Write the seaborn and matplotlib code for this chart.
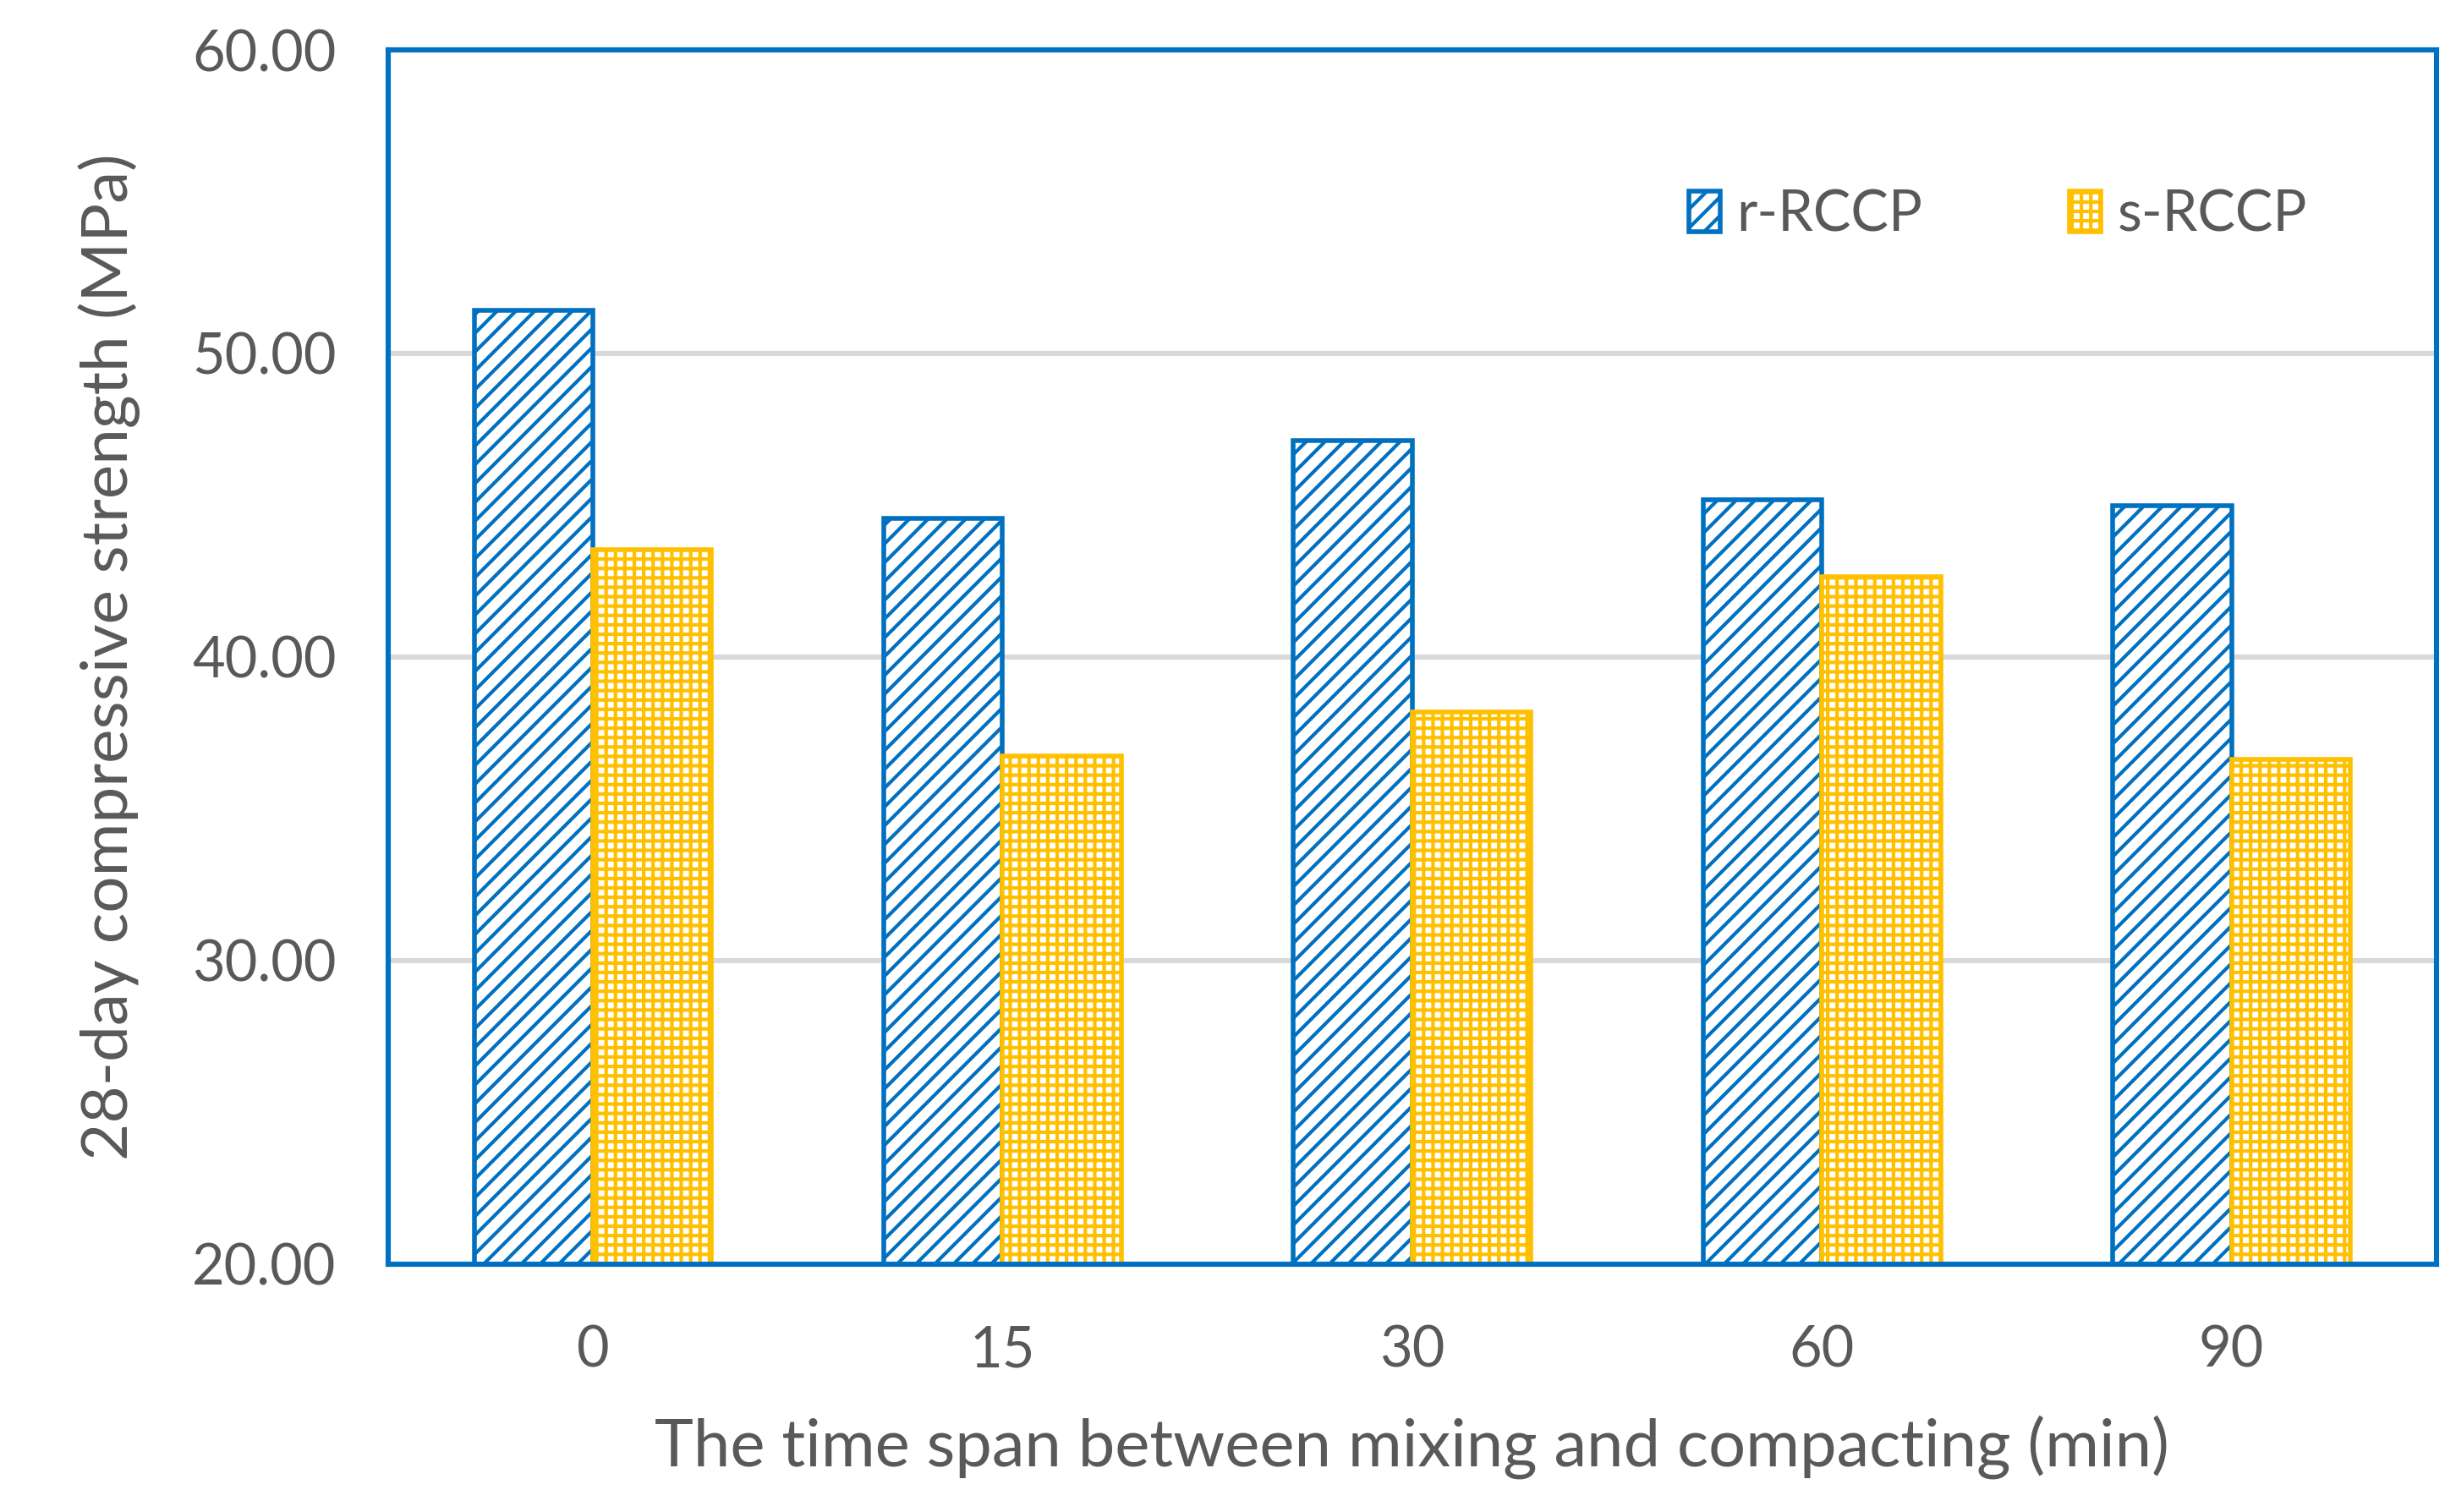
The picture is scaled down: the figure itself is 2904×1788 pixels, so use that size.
import matplotlib
matplotlib.use("Agg")
import matplotlib.pyplot as plt
from matplotlib.patches import Patch
import seaborn as sns
import pandas as pd

times = ["0", "15", "30", "60", "90"]
r_rccp = [51.43, 44.57, 47.12, 45.19, 44.99]
s_rccp = [43.53, 36.73, 38.18, 42.65, 36.62]
series = ["r-RCCP", "s-RCCP"]
yticks = [20, 30, 40, 50, 60]

BLUE = "#0070C0"
GOLD = "#FFC000"
TEXT = "#595959"
GRID = "#D9D9D9"

df = pd.DataFrame({
    "time": times * 2,
    "strength": r_rccp + s_rccp,
    "mix": [series[0]] * len(times) + [series[1]] * len(times),
})

sns.set_theme(style="white")
plt.rcParams["font.family"] = ["Lato", "DejaVu Sans"]
plt.rcParams["hatch.linewidth"] = 1.5

fig = plt.figure(figsize=(14.52, 8.94), dpi=200)
ax = fig.add_axes([0.158, 0.164, 0.834, 0.803])

sns.barplot(data=df, x="time", y="strength", hue="mix", order=times,
            hue_order=series, palette=[BLUE, GOLD], width=0.58,
            saturation=1, ax=ax, legend=False, zorder=3)

styles = [(BLUE, "///"), (GOLD, "+++")]
for cont, (col, h) in zip(ax.containers, styles):
    for bar in cont:
        bar.set_facecolor("white")
        bar.set_edgecolor(col)
        bar.set_hatch(h)
        bar.set_linewidth(2.0)

ax.set_ylim(20, 60)
ax.set_xlim(-0.5, len(times) - 0.5)
ax.set_yticks(yticks)
ax.set_yticklabels([f"{v:.2f}" for v in yticks])
ax.yaxis.grid(True, color=GRID, linewidth=2.2, zorder=0)
ax.set_axisbelow(True)
for sp in ax.spines.values():
    sp.set_visible(True)
    sp.set_color(BLUE)
    sp.set_linewidth(2.2)
    sp.set_zorder(5)

ax.tick_params(axis="both", length=0, labelsize=24, labelcolor=TEXT)
ax.tick_params(axis="y", pad=22)
ax.tick_params(axis="x", pad=26)
ax.set_xlabel("The time span between mixing and compacting (min)",
              fontsize=28, color=TEXT, labelpad=16)
ax.set_ylabel("28-day compressive strength (MPa)", fontsize=27.5,
              color=TEXT, labelpad=22)

handles = [Patch(facecolor="white", edgecolor=c, hatch=h, linewidth=2.0,
                 label=s) for (c, h), s in zip(styles, series)]
leg = ax.legend(handles=handles, loc="center", bbox_to_anchor=(0.786, 0.864),
                ncol=2, frameon=False, fontsize=24, handlelength=0.55,
                handleheight=0.75, handletextpad=0.3, columnspacing=2.6)
for t in leg.get_texts():
    t.set_color(TEXT)

fig.savefig("out.png", dpi=200)
